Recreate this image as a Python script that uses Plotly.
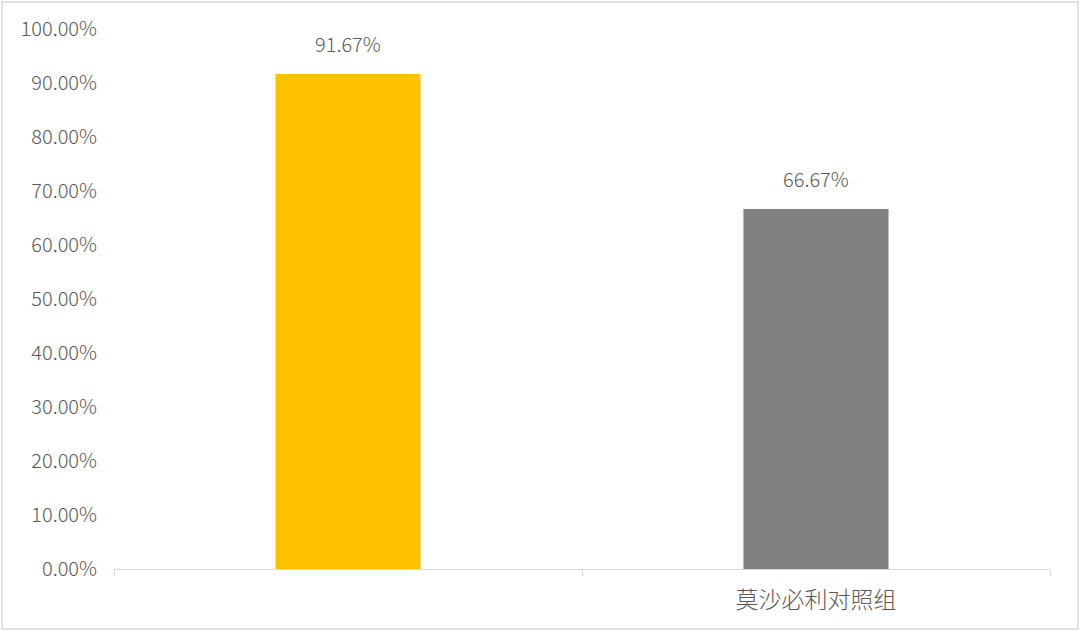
import plotly.graph_objects as go

categories = [" ", "莫沙必利对照组"]
values = [91.67, 66.67]
colors = ["#FFC000", "#808080"]
value_labels = ["91.67%", "66.67%"]
y_tick_vals = [0, 10, 20, 30, 40, 50, 60, 70, 80, 90, 100]
y_tick_text = ["%.2f%%" % v for v in y_tick_vals]

font_family = "Noto Sans CJK SC, DejaVu Sans, sans-serif"
text_color = "#595959"

fig = go.Figure()
fig.add_trace(go.Bar(
    x=categories,
    y=values,
    marker=dict(color=colors, line=dict(width=0)),
    width=0.31,
    hoverinfo="skip",
))

for cat, val, lab in zip(categories, values, value_labels):
    fig.add_annotation(
        x=cat, y=val, text=lab, showarrow=False,
        yanchor="bottom", yshift=14,
        font=dict(size=20, color=text_color, family=font_family, weight=300),
    )

fig.update_layout(
    width=1080,
    height=631,
    margin=dict(l=114, r=30, t=29, b=62),
    paper_bgcolor="white",
    plot_bgcolor="white",
    showlegend=False,
    font=dict(family=font_family, size=20, color=text_color, weight=300),
    xaxis=dict(
        showline=True,
        linecolor="#D9D9D9",
        linewidth=1,
        ticks="outside",
        tickson="boundaries",
        ticklen=6,
        tickcolor="#D9D9D9",
        showgrid=False,
        ticklabelstandoff=10,
        tickfont=dict(size=23, color=text_color, weight=300),
    ),
    yaxis=dict(
        range=[0, 100],
        tickvals=y_tick_vals,
        ticktext=y_tick_text,
        showgrid=False,
        showline=False,
        zeroline=False,
        ticks="",
        ticklabelstandoff=16,
        tickfont=dict(size=20, color=text_color, weight=300),
    ),
    shapes=[dict(
        type="rect", xref="paper", yref="paper",
        x0=-112/936, x1=1+28/936, y0=-60/540, y1=1+27/540,
        line=dict(color="#D9D9D9", width=1.5),
    )],
)

fig.write_html(
    "out.html",
    config={"displayModeBar": False},
    post_script="document.body.style.margin='0';document.body.style.padding='0';",
)
